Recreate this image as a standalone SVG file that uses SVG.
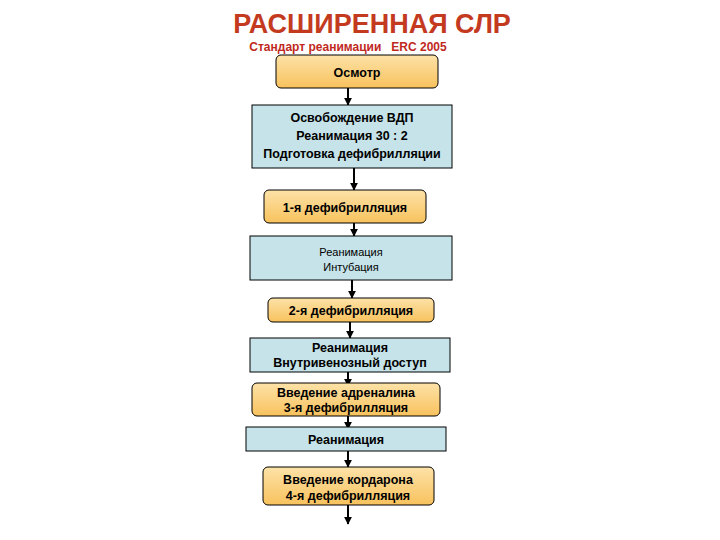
<svg xmlns="http://www.w3.org/2000/svg" width="720" height="540" viewBox="0 0 720 540">
<style>
text{font-family:"Liberation Sans",Arial,sans-serif;font-weight:bold;text-anchor:middle;fill:#000}
.o{fill:url(#og);stroke:#000;stroke-width:1}
.b{fill:#c5e3e8;stroke:#000;stroke-width:1}
.t{font-size:12.5px}
.s{font-size:11px;font-weight:normal}
.c line{stroke:#000;stroke-width:2}
</style>
<defs>
<linearGradient id="og" x1="0" y1="0" x2="0" y2="1"><stop offset="0" stop-color="#fde2a8"/><stop offset="1" stop-color="#f8c25d"/></linearGradient>
<marker id="a" viewBox="0 0 10 10" refX="9" refY="5" markerWidth="4" markerHeight="4" orient="auto"><path d="M0,0L10,5L0,10z" fill="#000"/></marker>
</defs>
<rect width="720" height="540" fill="#fff"/>
<text x="372" y="33" style="font-size:27px;fill:#c33a1f">РАСШИРЕННАЯ СЛР</text>
<text x="348" y="51" style="font-size:12px;fill:#c0281e;font-weight:bold" xml:space="preserve">Стандарт реанимации   ERC 2005</text>
<g class="c">
<line x1="348" y1="88" x2="348" y2="105" marker-end="url(#a)"/>
<line x1="354" y1="168" x2="354" y2="190" marker-end="url(#a)"/>
<line x1="354" y1="223" x2="354" y2="236" marker-end="url(#a)"/>
<line x1="352" y1="280" x2="352" y2="298" marker-end="url(#a)"/>
<line x1="350" y1="322" x2="350" y2="338" marker-end="url(#a)"/>
<line x1="348" y1="372" x2="348" y2="386" marker-end="url(#a)"/>
<line x1="348" y1="416" x2="348" y2="429" marker-end="url(#a)"/>
<line x1="348" y1="451" x2="348" y2="467" marker-end="url(#a)"/>
<line x1="348" y1="505" x2="348" y2="524" marker-end="url(#a)"/>
</g>
<g id="n1"><rect class="o" x="276" y="55" width="162" height="33" rx="5"/><text class="t" x="357" y="77">Осмотр</text></g>
<g id="n2"><rect class="b" x="252" y="105" width="200" height="63"/><text class="t" x="352" y="122">Освобождение ВДП</text><text class="t" x="352" y="140">Реанимация 30 : 2</text><text class="t" x="352" y="158">Подготовка дефибрилляции</text></g>
<g id="n3"><rect class="o" x="264" y="190" width="162" height="33" rx="5"/><text class="t" x="345" y="212">1-я дефибрилляция</text></g>
<g id="n4"><rect class="b" x="250" y="236" width="202" height="44"/><text class="s" x="351" y="256">Реанимация</text><text class="s" x="351" y="271">Интубация</text></g>
<g id="n5"><rect class="o" x="268" y="298" width="166" height="24" rx="5"/><text class="t" x="351" y="315">2-я дефибрилляция</text></g>
<g id="n6"><rect class="b" x="250" y="338" width="200" height="34"/><text class="t" x="350" y="352">Реанимация</text><text class="t" x="350" y="367">Внутривенозный доступ</text></g>
<g id="n7"><rect class="o" x="252" y="383" width="188" height="33" rx="5"/><text class="t" x="346" y="397">Введение адреналина</text><text class="t" x="346" y="412">3-я дефибрилляция</text></g>
<g id="n8"><rect class="b" x="246" y="427" width="200" height="24"/><text class="t" x="346" y="444">Реанимация</text></g>
<g id="n9"><rect class="o" x="263" y="467" width="171" height="38" rx="5"/><text class="t" x="348" y="484">Введение кордарона</text><text class="t" x="348" y="500">4-я дефибрилляция</text></g>
</svg>
